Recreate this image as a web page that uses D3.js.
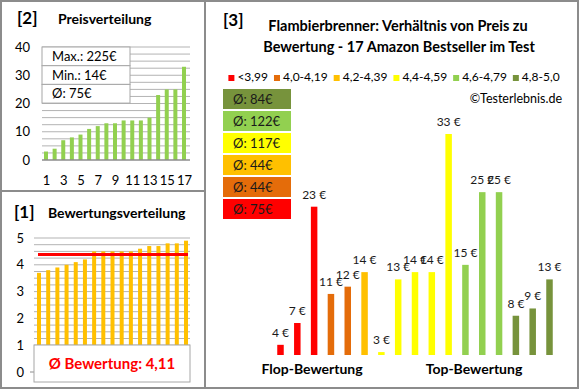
<!DOCTYPE html>
<html><head><meta charset="utf-8">
<script src="https://cdn.jsdelivr.net/npm/d3@7"></script>
<style>body{margin:0;background:#fff}svg{display:block;font-family:Lato,"Open Sans",sans-serif}</style>
</head><body><svg id="c" width="580" height="390"></svg>
<script>
const priceCats = d3.range(1, 18);
const priceTickLabels = [1,3,5,7,9,11,13,15,17];
const priceValues = [3,4,7,8,9,11,12,13,13,14,14,14,15,23,25,25,33];
const priceStats = ["Max.: 225€","Min.: 14€","Ø: 75€"];
const ratingValues = [3.7,3.8,3.9,4.0,4.1,4.2,4.5,4.5,4.5,4.5,4.5,4.6,4.7,4.7,4.8,4.8,4.9];
const ratingAvgLine = 4.38;
const ratingAvgText = "Ø Bewertung: 4,11";
const mainPrices = [4,7,23,11,12,14,3,13,14,14,33,15,25,25,8,9,13];
const mainGroups = [0,0,0,1,1,2,3,3,3,3,3,4,4,4,5,5,5];
const groupLabels = ["<3,99","4,0-4,19","4,2-4,39","4,4-4,59","4,6-4,79","4,8-5,0"];
const groupColors = ["#FF0000","#E46C0A","#FFC000","#FFFF00","#92D050","#77933C"];
const groupAvgs = ["Ø: 75€","Ø: 44€","Ø: 44€","Ø: 117€","Ø: 122€","Ø: 84€"];

const svg = d3.select("#c");
const frame = "#8c8c8c";

// ---------- Panel [2] Preisverteilung ----------
{
  const g = svg.append("g");
  const x = d3.scalePoint().domain(priceCats).range([46,184]);
  const y = d3.scaleLinear().domain([0,40]).range([160,47]);
  g.selectAll("line.gr").data(d3.range(2.5,40.01,2.5)).join("line")
    .attr("x1",42).attr("x2",190).attr("y1",d=>y(d)).attr("y2",d=>y(d))
    .attr("stroke","#b3b3b3").attr("stroke-width",1);
  g.selectAll("rect.b").data(priceValues).join("rect")
    .attr("x",(d,i)=>x(priceCats[i])-2).attr("width",4)
    .attr("y",d=>y(d)).attr("height",d=>y(0)-y(d)).attr("fill","#92D050");
  g.append("line").attr("x1",42).attr("x2",190).attr("y1",y(0)).attr("y2",y(0)).attr("stroke","#8c8c8c").attr("stroke-width",1.5);
  const ya = d3.axisLeft(y).tickValues([0,10,20,30,40]).tickSize(0).tickPadding(12);
  g.append("g").attr("transform","translate(42,0)").call(ya)
    .call(s=>{s.select(".domain").remove();s.selectAll("text").attr("font-size",13).attr("fill","#000").attr("font-family","Lato");});
  const xa = d3.axisBottom(x).tickValues(priceTickLabels).tickSize(0).tickPadding(16);
  g.append("g").attr("transform","translate(0,160)").call(xa)
    .call(s=>{s.select(".domain").remove();s.selectAll("text").attr("font-size",13).attr("fill","#000").attr("font-family","Lato");});
  const bh = 18.7;
  g.selectAll("rect.s").data(priceStats).join("rect")
    .attr("x",42).attr("y",(d,i)=>47+i*bh).attr("width",88).attr("height",bh)
    .attr("fill","#fff").attr("stroke","#a6a6a6").attr("stroke-width",1);
  g.selectAll("text.s").data(priceStats).join("text")
    .attr("x",52).attr("y",(d,i)=>47+i*bh+14).attr("font-size",13).attr("fill","#000").text(d=>d);
  g.append("text").attr("x",17).attr("y",24).attr("font-size",17).attr("font-weight","bold").text("[2]");
  g.append("text").attr("x",58).attr("y",24).attr("font-size",14).attr("font-weight","bold").text("Preisverteilung");
}

// ---------- Panel [1] Bewertungsverteilung ----------
{
  const g = svg.append("g");
  const x = d3.scalePoint().domain(d3.range(ratingValues.length)).range([39,186]);
  const y = d3.scaleLinear().domain([0,5]).range([372,238]);
  g.selectAll("line.gr").data(d3.range(0.25,5.01,0.25)).join("line")
    .attr("x1",34).attr("x2",190).attr("y1",d=>y(d)).attr("y2",d=>y(d))
    .attr("stroke","#b3b3b3").attr("stroke-width",1);
  g.selectAll("rect.b").data(ratingValues).join("rect")
    .attr("x",(d,i)=>x(i)-2).attr("width",4)
    .attr("y",d=>y(d)).attr("height",d=>y(0)-y(d)).attr("fill","#FFC000");
  g.append("line").attr("x1",38).attr("x2",188).attr("y1",y(ratingAvgLine)).attr("y2",y(ratingAvgLine))
    .attr("stroke","#FF0000").attr("stroke-width",3);
  g.append("line").attr("x1",30).attr("x2",34).attr("y1",y(0)).attr("y2",y(0)).attr("stroke","#8c8c8c");
  const ya = d3.axisLeft(y).ticks(5).tickFormat(d3.format("d")).tickSize(0).tickPadding(10);
  g.append("g").attr("transform","translate(34,0)").call(ya)
    .call(s=>{s.select(".domain").remove();s.selectAll("text").attr("font-size",13).attr("fill","#000").attr("font-family","Lato");});
  g.append("rect").attr("x",34).attr("y",345).attr("width",156).attr("height",37)
    .attr("fill","#fff").attr("stroke","#a6a6a6");
  g.append("text").attr("x",112).attr("y",369).attr("text-anchor","middle").attr("font-size",15)
    .attr("font-weight","bold").attr("fill","#FF0000").text(ratingAvgText);
  g.append("text").attr("x",14).attr("y",218).attr("font-size",17).attr("font-weight","bold").text("[1]");
  g.append("text").attr("x",48).attr("y",218).attr("font-size",14).attr("font-weight","bold").text("Bewertungsverteilung");
}

// ---------- Panel [3] main ----------
{
  const g = svg.append("g");
  g.append("text").attr("x",223).attr("y",26).attr("font-size",17).attr("font-weight","bold").text("[3]");
  const t = g.append("text").attr("text-anchor","middle").attr("font-size",14.5).attr("font-weight","bold");
  t.append("tspan").attr("x",398).attr("y",31).text("Flambierbrenner: Verhältnis von Preis zu");
  t.append("tspan").attr("x",399).attr("y",52).text("Bewertung - 17 Amazon Bestseller im Test");

  const lg = g.append("g");
  let cx = 0;
  groupLabels.forEach((lab,i)=>{
    const it = lg.append("g").attr("transform",`translate(${cx},0)`);
    it.append("rect").attr("x",0).attr("y",-6).attr("width",6).attr("height",6).attr("fill",groupColors[i]);
    const tx = it.append("text").attr("x",9).attr("y",0).attr("font-size",12).attr("fill","#000").text(lab);
    cx += 9 + tx.node().getComputedTextLength() + 6;
  });
  const lw = cx - 6;
  lg.attr("transform",`translate(${394 - lw/2},81)`);

  g.append("text").attr("x",562).attr("y",103).attr("text-anchor","end").attr("font-size",12.5).attr("fill","#000").text("©Testerlebnis.de");

  const order = d3.range(groupLabels.length).reverse();
  g.selectAll("rect.a").data(order).join("rect")
    .attr("x",223).attr("y",(d,i)=>89+i*22).attr("width",68).attr("height",20).attr("fill",d=>groupColors[d]);
  g.selectAll("text.a").data(order).join("text")
    .attr("x",233).attr("y",(d,i)=>89+i*22+15).attr("font-size",13).attr("fill","#1a1a1a").text(d=>groupAvgs[d]);

  const x = d3.scalePoint().domain(d3.range(mainPrices.length)).range([280.5,549.5]);
  const y = d3.scaleLinear().domain([2.6,33]).range([355,134]);
  g.selectAll("rect.m").data(mainPrices).join("rect")
    .attr("x",(d,i)=>x(i)-3.25).attr("width",6.5)
    .attr("y",d=>y(d)).attr("height",d=>y(2.6)-y(d)).attr("fill",(d,i)=>groupColors[mainGroups[i]]);
  g.selectAll("text.m").data(mainPrices).join("text")
    .attr("x",(d,i)=>x(i)).attr("y",d=>y(d)-8).attr("text-anchor","middle")
    .attr("font-size",12).attr("fill","#1a1a1a").text(d=>d+" €");
  g.append("text").attr("x",312).attr("y",374).attr("text-anchor","middle").attr("font-size",14).attr("font-weight","bold").text("Flop-Bewertung");
  g.append("text").attr("x",474).attr("y",374).attr("text-anchor","middle").attr("font-size",14).attr("font-weight","bold").text("Top-Bewertung");
}

svg.append("rect").attr("x",1).attr("y",1).attr("width",577).attr("height",387).attr("fill","none").attr("stroke",frame).attr("stroke-width",2);
svg.append("line").attr("x1",205).attr("x2",205).attr("y1",1).attr("y2",388).attr("stroke",frame).attr("stroke-width",2);
svg.append("line").attr("x1",1).attr("x2",205).attr("y1",191).attr("y2",191).attr("stroke",frame).attr("stroke-width",2);
</script></body></html>
